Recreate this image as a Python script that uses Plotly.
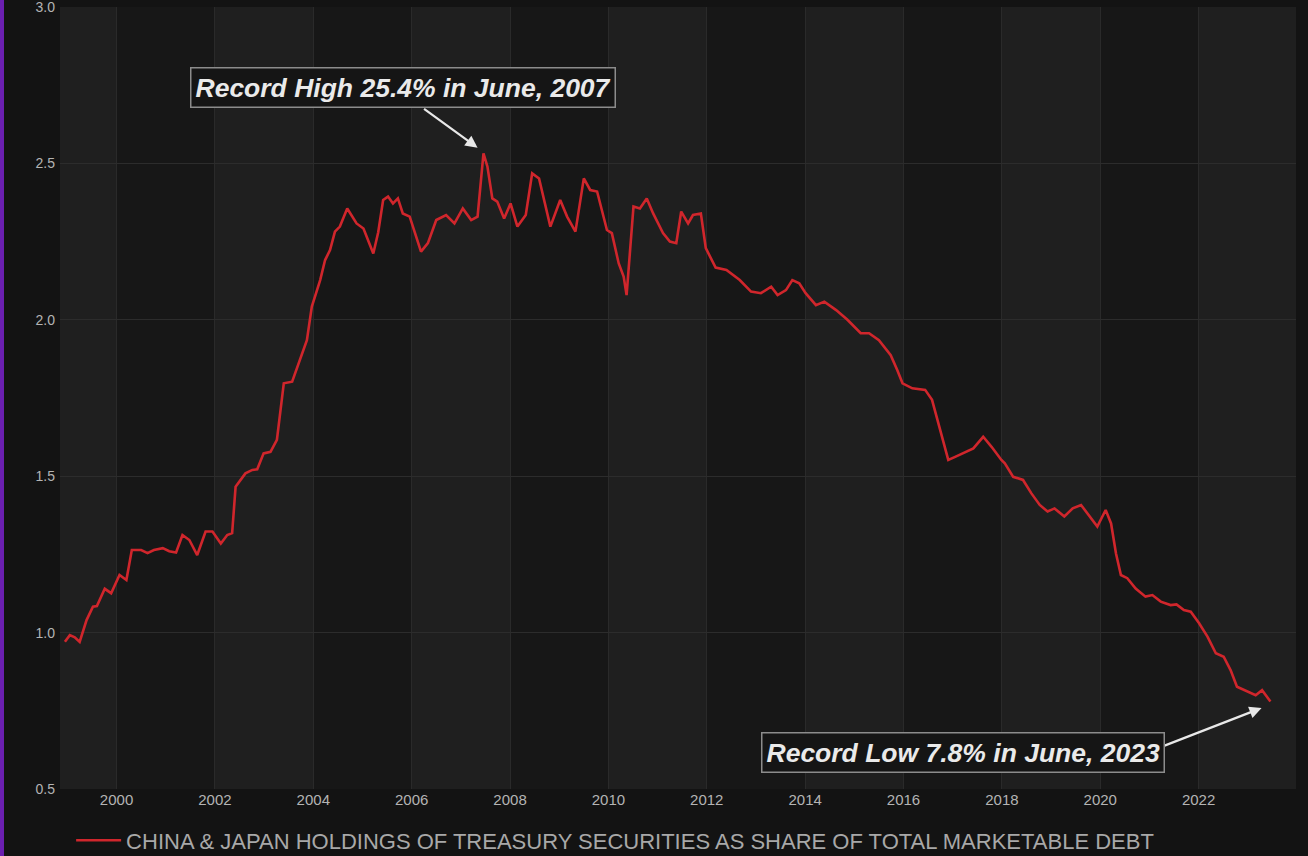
import plotly.graph_objects as go

# Decimal-year positions and values
years = [
    1998.95, 1999.05, 1999.15, 1999.25, 1999.39, 1999.52, 1999.60, 1999.76, 1999.89,
    2000.06, 2000.20, 2000.31, 2000.50, 2000.63, 2000.76, 2000.94, 2001.07, 2001.21,
    2001.34, 2001.48, 2001.64, 2001.81, 2001.95, 2002.12, 2002.25, 2002.35, 2002.42,
    2002.62, 2002.76, 2002.86, 2002.99, 2003.13, 2003.26, 2003.40, 2003.57, 2003.73,
    2003.87, 2003.97, 2004.14, 2004.24, 2004.34, 2004.44, 2004.54, 2004.69, 2004.88,
    2005.02, 2005.22, 2005.32, 2005.42, 2005.52, 2005.62, 2005.72, 2005.82, 2005.96,
    2006.19, 2006.33, 2006.50, 2006.70, 2006.87, 2007.04, 2007.21, 2007.34, 2007.46,
    2007.54, 2007.64, 2007.74, 2007.88, 2008.01, 2008.15, 2008.32, 2008.45, 2008.59,
    2008.82, 2009.02, 2009.16, 2009.33, 2009.50, 2009.63, 2009.77, 2009.97, 2010.07,
    2010.21, 2010.31, 2010.37, 2010.51, 2010.64, 2010.78, 2010.91, 2011.11, 2011.25,
    2011.38, 2011.48, 2011.62, 2011.72, 2011.88, 2011.98, 2012.18, 2012.40, 2012.67,
    2012.90, 2013.10, 2013.31, 2013.44, 2013.61, 2013.74, 2013.88, 2014.01, 2014.22,
    2014.39, 2014.63, 2014.86, 2015.13, 2015.30, 2015.50, 2015.74, 2015.87, 2015.98,
    2016.18, 2016.44, 2016.58, 2016.71, 2016.91, 2017.05, 2017.25, 2017.42, 2017.62,
    2017.79, 2017.99, 2018.06, 2018.23, 2018.43, 2018.60, 2018.77, 2018.93, 2019.07,
    2019.27, 2019.44, 2019.61, 2019.78, 2019.94, 2020.11, 2020.22, 2020.32, 2020.42,
    2020.55, 2020.72, 2020.92, 2021.06, 2021.23, 2021.43, 2021.55, 2021.70, 2021.84,
    2022.01, 2022.18, 2022.35, 2022.51, 2022.65, 2022.78, 2022.99, 2023.16, 2023.29,
    2023.46,
]
share = [
    0.971, 0.992, 0.985, 0.970, 1.040, 1.083, 1.085, 1.140, 1.126,
    1.184, 1.168, 1.264, 1.264, 1.254, 1.264, 1.270, 1.260, 1.256,
    1.312, 1.296, 1.248, 1.323, 1.323, 1.285, 1.312, 1.318, 1.466,
    1.509, 1.520, 1.522, 1.573, 1.578, 1.616, 1.797, 1.802, 1.871,
    1.935, 2.042, 2.127, 2.191, 2.223, 2.282, 2.298, 2.356, 2.308,
    2.292, 2.212, 2.280, 2.383, 2.394, 2.372, 2.388, 2.340, 2.330,
    2.218, 2.245, 2.319, 2.335, 2.308, 2.356, 2.319, 2.330, 2.532,
    2.490, 2.388, 2.378, 2.324, 2.372, 2.298, 2.335, 2.468, 2.452,
    2.298, 2.383, 2.330, 2.282, 2.452, 2.415, 2.410, 2.287, 2.277,
    2.180, 2.138, 2.079, 2.362, 2.356, 2.388, 2.340, 2.277, 2.250,
    2.245, 2.346, 2.308, 2.335, 2.340, 2.229, 2.167, 2.159, 2.127,
    2.090, 2.085, 2.106, 2.079, 2.095, 2.127, 2.117, 2.085, 2.047,
    2.058, 2.031, 2.000, 1.957, 1.957, 1.935, 1.887, 1.840, 1.797,
    1.781, 1.776, 1.744, 1.669, 1.552, 1.562, 1.578, 1.589, 1.626,
    1.594, 1.552, 1.541, 1.498, 1.488, 1.445, 1.408, 1.387, 1.397,
    1.371, 1.397, 1.408, 1.371, 1.339, 1.392, 1.349, 1.253, 1.184,
    1.174, 1.141, 1.115, 1.120, 1.099, 1.088, 1.090, 1.072, 1.067,
    1.030, 0.987, 0.934, 0.923, 0.880, 0.827, 0.811, 0.800, 0.816,
    0.780,
]

x_ticks = [2000, 2002, 2004, 2006, 2008, 2010, 2012, 2014, 2016, 2018, 2020, 2022]
y_ticks = [0.5, 1.0, 1.5, 2.0, 2.5, 3.0]
series_name = "CHINA & JAPAN HOLDINGS OF TREASURY SECURITIES AS SHARE OF TOTAL MARKETABLE DEBT"
high_label = "Record High 25.4% in June, 2007"
low_label = "Record Low 7.8% in June, 2023"

FONT = "Liberation Sans, Arial, sans-serif"

fig = go.Figure()
fig.add_trace(go.Scatter(
    x=years, y=share, mode="lines", name=series_name,
    line=dict(color="#d0262c", width=2.6),
))

# alternating background bands (2-year stripes)
shapes = []
for start in range(1998, 2024, 4):
    shapes.append(dict(type="rect", xref="x", yref="paper", x0=start, x1=start + 2,
                       y0=0, y1=1, fillcolor="#1f1f1f", line_width=0, layer="below"))
# purple edge strip at far left
shapes.append(dict(type="rect", xref="paper", yref="paper", x0=-60 / 1236, x1=-56 / 1236,
                   y0=-67 / 782, y1=1 + 7 / 782, fillcolor="#6b1fb0", line_width=0))

annotations = [
    # high: arrow then box
    dict(x=2007.34, y=2.55, xref="x", yref="y", text="", showarrow=True,
         ax=-55, ay=-40, arrowhead=2, arrowsize=1.1, arrowwidth=2.2, arrowcolor="#e8e8e8"),
    dict(x=2007.34, y=2.55, xref="x", yref="y",
         text="<b><i>" + high_label + "</i></b>", showarrow=False,
         xshift=-75, yshift=60,
         font=dict(family=FONT, size=26.5, color="#eaeaea"),
         bgcolor="#151515", bordercolor="#8c8c8c", borderwidth=1.5, borderpad=4),
    # low: arrow then box
    dict(x=2023.28, y=0.759, xref="x", yref="y", text="", showarrow=True,
         ax=-103, ay=40, arrowhead=2, arrowsize=1.1, arrowwidth=2.2, arrowcolor="#e8e8e8"),
    dict(x=2023.28, y=0.759, xref="x", yref="y",
         text="<b><i>" + low_label + "</i></b>", showarrow=False,
         xshift=-299, yshift=-45,
         font=dict(family=FONT, size=26.5, color="#eaeaea"),
         bgcolor="#151515", bordercolor="#8c8c8c", borderwidth=1.5, borderpad=4),
]

fig.update_layout(
    width=1308, height=856,
    margin=dict(l=60, r=12, t=7, b=67, autoexpand=False),
    paper_bgcolor="#131313",
    plot_bgcolor="#171717",
    shapes=shapes,
    annotations=annotations,
    showlegend=True,
    legend=dict(orientation="h", x=0.009, y=-0.039, xanchor="left", yanchor="top",
                font=dict(family=FONT, size=22, color="#a8a8a8"),
                bgcolor="rgba(0,0,0,0)", itemwidth=45),
    xaxis=dict(range=[1998.85, 2023.98], tickvals=x_ticks,
               ticktext=[str(v) for v in x_ticks], automargin=False,
               showgrid=True, gridcolor="#2a2a2a", gridwidth=1, zeroline=False,
               showline=False, ticks="",
               tickfont=dict(family=FONT, size=15, color="#b4b4b4")),
    yaxis=dict(range=[0.5, 3.0], tickvals=y_ticks,
               ticktext=["%.1f" % v for v in y_ticks], automargin=False,
               ticklabeloverflow="allow",
               showgrid=True, gridcolor="#2c2c2c", gridwidth=1, zeroline=False,
               showline=False, ticks="", ticklabelstandoff=4,
               tickfont=dict(family=FONT, size=14, color="#b4b4b4")),
)

fig.write_html(
    "out.html",
    config={"displayModeBar": False},
    post_script="document.body.style.margin='0';document.body.style.overflow='hidden';",
)
